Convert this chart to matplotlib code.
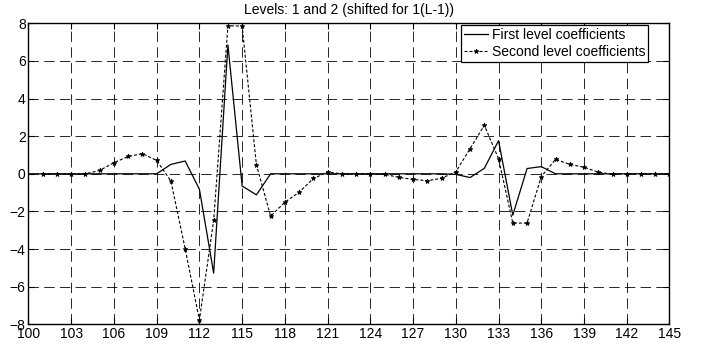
import matplotlib
matplotlib.use("Agg")
import matplotlib.pyplot as plt
import numpy as np

plt.rcParams['font.family'] = ['Liberation Sans', 'DejaVu Sans']
plt.rcParams['lines.scale_dashes'] = False

# First level detail coefficients (samples 100..145)
x_first = list(range(100, 146))
first_level = [0, 0, 0, 0, 0, 0, 0, 0, 0, 0,
               0.50, 0.68, -0.82, -5.28, 6.85, -0.65, -1.12, 0, 0, 0,
               0, 0, 0, 0, 0, 0, 0, 0, 0, 0,
               -0.03, -0.20, 0.29, 1.76, -2.20, 0.28, 0.38, 0, 0, 0,
               0, 0, 0, 0, 0, 0]

# Second level detail coefficients (samples 101..145)
x_second = list(range(101, 146))
second_level = [0, 0, -0.02, 0, 0.18, 0.59, 0.92, 1.07, 0.71,
                -0.39, -3.99, -7.77, -2.48, 7.87, 7.85, 0.48, -2.25, -1.51, -0.98,
                -0.25, 0.09, 0, 0, 0, -0.03, -0.19, -0.30, -0.37, -0.24,
                0.11, 1.33, 2.58, 0.80, -2.62, -2.62, -0.15, 0.77, 0.50, 0.35,
                0.09, -0.03, 0, 0, 0, 0]

x_ticks = list(range(100, 146, 3))
y_ticks = list(range(-8, 9, 2))
title = "Levels: 1 and 2 (shifted for 1(L-1))"

fig = plt.figure(figsize=(7.12, 3.47), dpi=100)
ax = fig.add_axes([0.040, 0.0654, 0.9003, 0.8675])

ax.plot(x_first, first_level, color='black', lw=0.9, linestyle='-',
        label='First level coefficients', zorder=3)
ax.plot(x_second, second_level, color='black', lw=0.8, linestyle=(0, (2.2, 1.4)),
        marker='*', markersize=3.5, markeredgewidth=0.6,
        label='Second level coefficients', zorder=3)

ax.set_xlim(100, 145)
ax.set_ylim(-8, 8)
ax.set_xticks(x_ticks)
ax.set_yticks(y_ticks)
ax.tick_params(direction='in', length=4, width=0.8, labelsize=10, pad=2,
               top=True, right=True, colors='black')

ax.grid(True, color='black', lw=0.7, linestyle=(0, (7.5, 3.8)), alpha=0.85)
for s in ax.spines.values():
    s.set_linewidth(1.0)
    s.set_color('black')

ax.set_title(title, fontsize=10, pad=7)

leg = ax.legend(loc='upper right', bbox_to_anchor=(0.9665, 0.993), fontsize=10,
                handlelength=1.75, handletextpad=0.25, borderpad=0.2,
                labelspacing=0.2, borderaxespad=0.0, fancybox=False,
                framealpha=1, edgecolor='black')
leg.get_frame().set_linewidth(0.9)

fig.savefig("out.png", dpi=100)
